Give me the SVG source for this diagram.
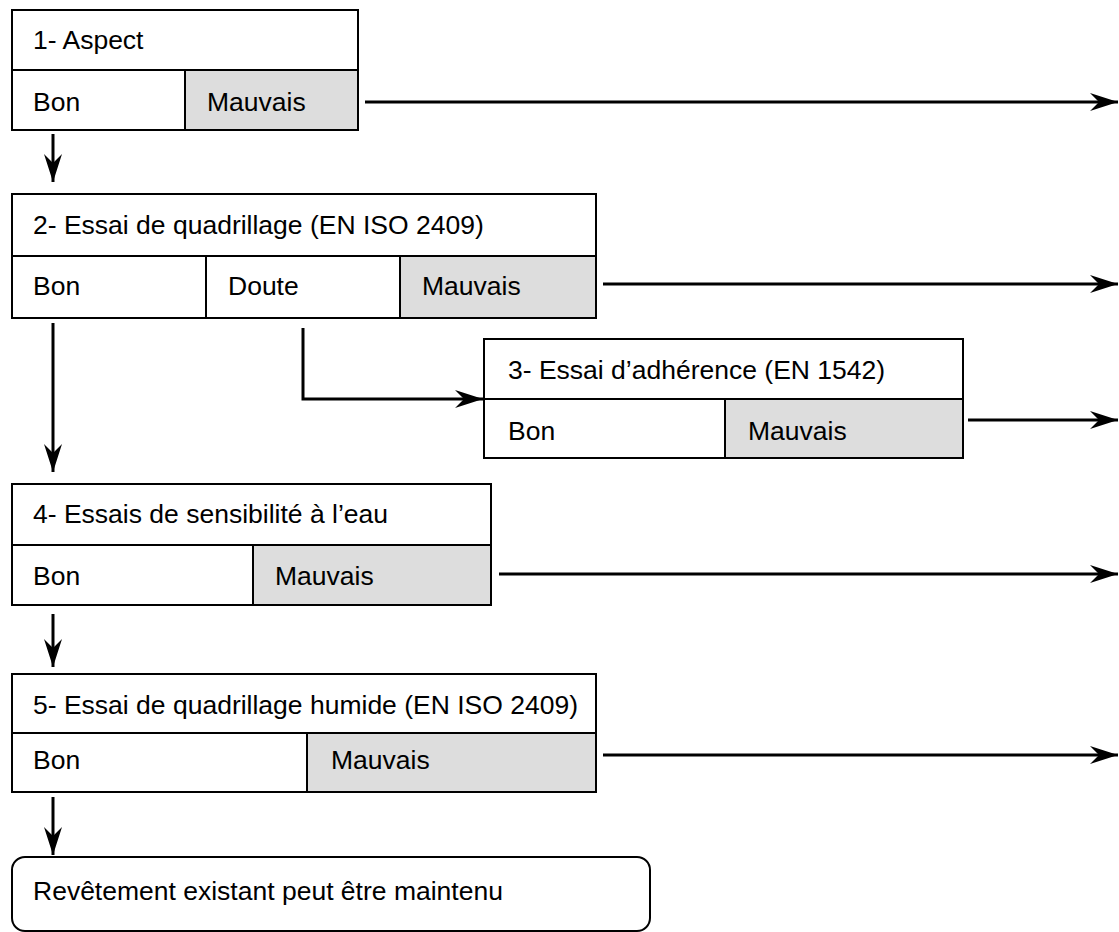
<svg xmlns="http://www.w3.org/2000/svg" width="1119" height="932" viewBox="0 0 1119 932">
<defs>
<style>
.box{fill:#fff;stroke:#000;stroke-width:2}
.bad{fill:#dddddd;stroke:#000;stroke-width:2}
.ln{stroke:#000;stroke-width:2}
.t{font-family:"Liberation Sans",Arial,sans-serif;font-size:26.5px;fill:#000}
.c{fill:none;stroke:#000;stroke-width:3}
</style>
<marker id="ah" viewBox="-29 -10 30 20" refX="0" refY="0" markerWidth="30" markerHeight="20" markerUnits="userSpaceOnUse" orient="auto">
<path d="M0,0 L-28,-9 L-19,0 L-28,9 Z" fill="#000"/>
</marker>
</defs>
<rect width="1119" height="932" fill="#fff"/>
<g id="node1">
<rect class="box" x="12" y="10" width="346" height="120"/>
<rect class="bad" x="185" y="70" width="173" height="60"/>
<line class="ln" x1="12" y1="70" x2="358" y2="70"/>
<text class="t" x="33" y="49">1- Aspect</text>
<text class="t" x="33" y="111">Bon</text>
<text class="t" x="207" y="111">Mauvais</text>
</g>
<g id="node2">
<rect class="box" x="12" y="194" width="584" height="124"/>
<rect class="bad" x="400" y="256" width="196" height="62"/>
<line class="ln" x1="12" y1="256" x2="596" y2="256"/>
<line class="ln" x1="206" y1="256" x2="206" y2="318"/>
<text class="t" x="33" y="234">2- Essai de quadrillage (EN ISO 2409)</text>
<text class="t" x="33" y="295">Bon</text>
<text class="t" x="228" y="295">Doute</text>
<text class="t" x="422" y="295">Mauvais</text>
</g>
<g id="node3">
<rect class="box" x="484" y="339" width="479" height="119"/>
<rect class="bad" x="725" y="399" width="238" height="59"/>
<line class="ln" x1="484" y1="399" x2="963" y2="399"/>
<text class="t" x="508" y="379">3- Essai d’adhérence (EN 1542)</text>
<text class="t" x="508" y="440">Bon</text>
<text class="t" x="748" y="440">Mauvais</text>
</g>
<g id="node4">
<rect class="box" x="12" y="484" width="479" height="121"/>
<rect class="bad" x="253" y="545" width="238" height="60"/>
<line class="ln" x1="12" y1="545" x2="491" y2="545"/>
<text class="t" x="33" y="523">4- Essais de sensibilité à l’eau</text>
<text class="t" x="33" y="585">Bon</text>
<text class="t" x="275" y="585">Mauvais</text>
</g>
<g id="node5">
<rect class="box" x="12" y="674" width="584" height="118"/>
<rect class="bad" x="307" y="733" width="289" height="59"/>
<line class="ln" x1="12" y1="733" x2="596" y2="733"/>
<text class="t" x="33" y="714">5- Essai de quadrillage humide (EN ISO 2409)</text>
<text class="t" x="33" y="769">Bon</text>
<text class="t" x="331" y="769">Mauvais</text>
</g>
<g id="node6">
<rect class="box" x="12" y="857" width="638" height="74" rx="13"/>
<text class="t" x="33" y="900">Revêtement existant peut être maintenu</text>
</g>
<g id="connectors">
<line class="c" x1="365" y1="102" x2="1118" y2="102" marker-end="url(#ah)"/>
<line class="c" x1="603" y1="284" x2="1118" y2="284" marker-end="url(#ah)"/>
<line class="c" x1="968" y1="420" x2="1118" y2="420" marker-end="url(#ah)"/>
<line class="c" x1="499" y1="574" x2="1118" y2="574" marker-end="url(#ah)"/>
<line class="c" x1="603" y1="755" x2="1118" y2="755" marker-end="url(#ah)"/>
<line class="c" x1="53" y1="134" x2="53" y2="182" marker-end="url(#ah)"/>
<line class="c" x1="53" y1="323" x2="53" y2="472" marker-end="url(#ah)"/>
<line class="c" x1="53" y1="614" x2="53" y2="667" marker-end="url(#ah)"/>
<line class="c" x1="53" y1="797" x2="53" y2="855" marker-end="url(#ah)"/>
<polyline class="c" points="303,328 303,399 483,399" marker-end="url(#ah)"/>
</g>
</svg>
